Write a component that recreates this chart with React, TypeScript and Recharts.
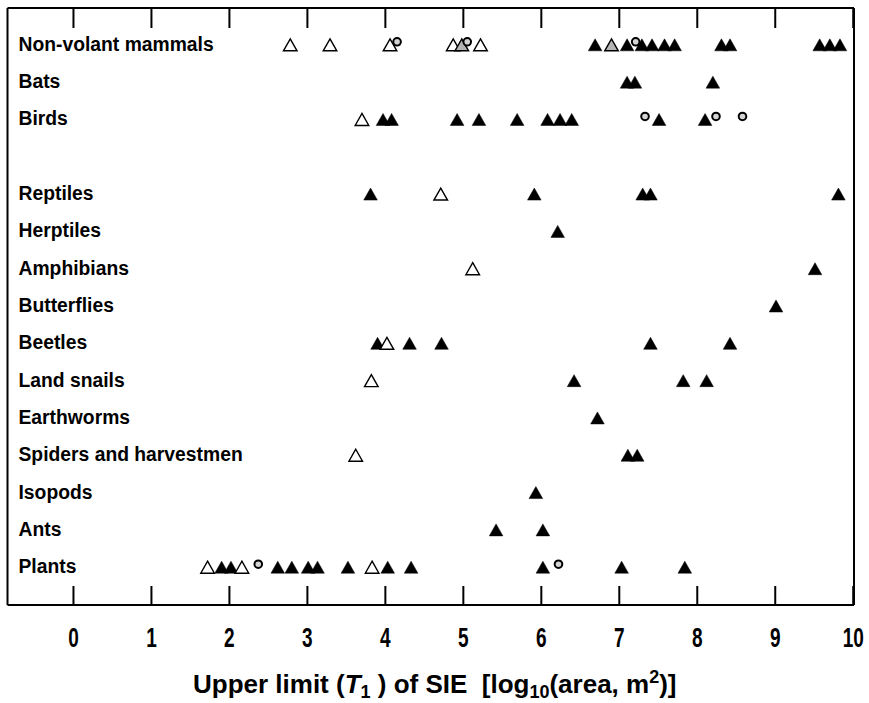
import React from 'react';
import { ScatterChart, Scatter, XAxis, YAxis } from 'recharts';

const taxa = [
  'Non-volant mammals',
  'Bats',
  'Birds',
  '',
  'Reptiles',
  'Herptiles',
  'Amphibians',
  'Butterflies',
  'Beetles',
  'Land snails',
  'Earthworms',
  'Spiders and harvestmen',
  'Isopods',
  'Ants',
  'Plants',
];
const labelRows = [0, 1, 2, 4, 5, 6, 7, 8, 9, 10, 11, 12, 13, 14];
const xTicks = [0, 1, 2, 3, 4, 5, 6, 7, 8, 9, 10];

type Pt = [string, number];

const filledTriangles: Pt[] = [
  ['Non-volant mammals', 6.69], ['Non-volant mammals', 7.10], ['Non-volant mammals', 7.29],
  ['Non-volant mammals', 7.42], ['Non-volant mammals', 7.58], ['Non-volant mammals', 7.71],
  ['Non-volant mammals', 8.31], ['Non-volant mammals', 8.42], ['Non-volant mammals', 9.57],
  ['Non-volant mammals', 9.70], ['Non-volant mammals', 9.83],
  ['Bats', 7.10], ['Bats', 7.20], ['Bats', 8.20],
  ['Birds', 3.97], ['Birds', 4.08], ['Birds', 4.92], ['Birds', 5.20], ['Birds', 5.69],
  ['Birds', 6.08], ['Birds', 6.24], ['Birds', 6.39], ['Birds', 7.51], ['Birds', 8.10],
  ['Reptiles', 3.81], ['Reptiles', 5.91], ['Reptiles', 7.30], ['Reptiles', 7.40], ['Reptiles', 9.81],
  ['Herptiles', 6.21],
  ['Amphibians', 9.51],
  ['Butterflies', 9.01],
  ['Beetles', 3.90], ['Beetles', 4.31], ['Beetles', 4.72], ['Beetles', 7.40], ['Beetles', 8.42],
  ['Land snails', 6.42], ['Land snails', 7.82], ['Land snails', 8.12],
  ['Earthworms', 6.72],
  ['Spiders and harvestmen', 7.11], ['Spiders and harvestmen', 7.23],
  ['Isopods', 5.93],
  ['Ants', 5.42], ['Ants', 6.02],
  ['Plants', 1.90], ['Plants', 2.02], ['Plants', 2.62], ['Plants', 2.80], ['Plants', 3.01],
  ['Plants', 3.13], ['Plants', 3.52], ['Plants', 4.03], ['Plants', 4.33], ['Plants', 6.02],
  ['Plants', 7.03], ['Plants', 7.84],
];

const openTriangles: Pt[] = [
  ['Non-volant mammals', 2.78], ['Non-volant mammals', 3.29], ['Non-volant mammals', 4.06],
  ['Non-volant mammals', 4.87], ['Non-volant mammals', 5.22],
  ['Birds', 3.70],
  ['Reptiles', 4.71],
  ['Amphibians', 5.12],
  ['Beetles', 4.02],
  ['Land snails', 3.82],
  ['Spiders and harvestmen', 3.62],
  ['Plants', 1.72], ['Plants', 2.16], ['Plants', 3.83],
];

const shadedTriangles: Pt[] = [
  ['Non-volant mammals', 4.98], ['Non-volant mammals', 6.90],
];

const openCircles: Pt[] = [
  ['Non-volant mammals', 4.15], ['Non-volant mammals', 5.05], ['Non-volant mammals', 7.21],
  ['Birds', 7.33], ['Birds', 8.24], ['Birds', 8.58],
  ['Plants', 2.37], ['Plants', 6.22],
];

const toPoints = (list: Pt[]) => list.map(([t, x]) => ({ x, y: taxa.indexOf(t) }));

const FONT = '"Liberation Sans", Arial, Helvetica, sans-serif';
const X_DOMAIN: [number, number] = [-0.846, 10.01];
const MARGIN = { top: 8, right: 14, bottom: 38, left: 6.5 };

const triangle = (fill: string, stroke: string, sw: number) => (props: any) => {
  const { cx, cy } = props;
  if (cx == null || cy == null) return <g />;
  return (
    <path
      d={`M${cx},${cy - 6.5} L${cx + 6.8},${cy + 5.5} L${cx - 6.8},${cy + 5.5} Z`}
      fill={fill}
      stroke={stroke}
      strokeWidth={sw}
      strokeLinejoin="miter"
    />
  );
};

const circleShape = (props: any) => {
  const { cx, cy } = props;
  if (cx == null || cy == null) return <g />;
  return <circle cx={cx} cy={cy - 3.5} r={3.8} fill="#d4d4d4" stroke="#000" strokeWidth={2} />;
};

const RowLabel = (props: any) => {
  const { x, y, payload } = props;
  return (
    <text
      transform={`translate(${x + 11},${y + 5.5}) scale(0.92,1)`}
      fontFamily={FONT}
      fontWeight="bold"
      fontSize={21}
      fill="#000"
      textAnchor="start"
    >
      {taxa[payload.value]}
    </text>
  );
};

const BottomTick = (props: any) => {
  const { x, y, payload } = props;
  const top = MARGIN.top;
  return (
    <g>
      <line x1={x} x2={x} y1={y} y2={y - 19} stroke="#000" strokeWidth={2} />
      <line x1={x} x2={x} y1={top} y2={top + 20} stroke="#000" strokeWidth={2} />
      <text
        transform={`translate(${x},${y + 42}) scale(0.68,1)`}
        fontFamily={FONT}
        fontWeight="bold"
        fontSize={28}
        fill="#000"
        textAnchor="middle"
      >
        {payload.value}
      </text>
    </g>
  );
};

const AxisTitle = (props: any) => {
  const vb = props.viewBox || { x: 0, y: 0, width: 0, height: 0 };
  const cx = vb.x + vb.width / 2 + 4;
  const by = vb.y + 88;
  return (
    <text
      x={cx}
      y={by}
      fontFamily={FONT}
      fontWeight="bold"
      fontSize={26}
      fill="#000"
      textAnchor="middle"
      style={{ whiteSpace: 'pre' }}
    >
      <tspan>Upper limit (</tspan>
      <tspan fontStyle="italic">T</tspan>
      <tspan fontSize={18} dy={5}>1</tspan>
      <tspan dy={-5}>{' ) of SIE  [log'}</tspan>
      <tspan fontSize={18} dy={5}>10</tspan>
      <tspan dy={-5}>(area, m</tspan>
      <tspan fontSize={18} dy={-10}>2</tspan>
      <tspan dy={10}>)]</tspan>
    </text>
  );
};

export default function App() {
  const axisLine = { stroke: '#000', strokeWidth: 2 };
  return (
    <div style={{ position: 'absolute', left: 0, top: 0, background: '#fff' }}>
      <ScatterChart width={869} height={703} margin={MARGIN}>
        <XAxis
          type="number"
          dataKey="x"
          domain={X_DOMAIN}
          ticks={xTicks}
          interval={0}
          allowDataOverflow
          height={60}
          tickSize={0}
          tickMargin={0}
          tickLine={false}
          tick={BottomTick}
          axisLine={axisLine}
          label={{ content: AxisTitle }}
        />
        <YAxis
          type="number"
          dataKey="y"
          domain={[-1, 15]}
          reversed
          ticks={labelRows}
          interval={0}
          allowDataOverflow
          width={1}
          tickSize={0}
          tickMargin={0}
          tickLine={false}
          tick={RowLabel}
          axisLine={axisLine}
        />
        <YAxis
          yAxisId="right"
          orientation="right"
          type="number"
          domain={[0, 1]}
          width={1}
          tick={false}
          tickLine={false}
          axisLine={axisLine}
        />
        <XAxis
          xAxisId="top"
          orientation="top"
          type="number"
          domain={X_DOMAIN}
          height={0.01}
          tick={false}
          tickLine={false}
          axisLine={axisLine}
        />
        <Scatter data={toPoints(filledTriangles)} shape={triangle('#000', '#000', 0.5)} isAnimationActive={false} />
        <Scatter data={toPoints(openTriangles)} shape={triangle('#fff', '#000', 1.4)} isAnimationActive={false} />
        <Scatter data={toPoints(shadedTriangles)} shape={triangle('#b5b5b5', '#000', 1.4)} isAnimationActive={false} />
        <Scatter data={toPoints(openCircles)} shape={circleShape} isAnimationActive={false} />
      </ScatterChart>
    </div>
  );
}
